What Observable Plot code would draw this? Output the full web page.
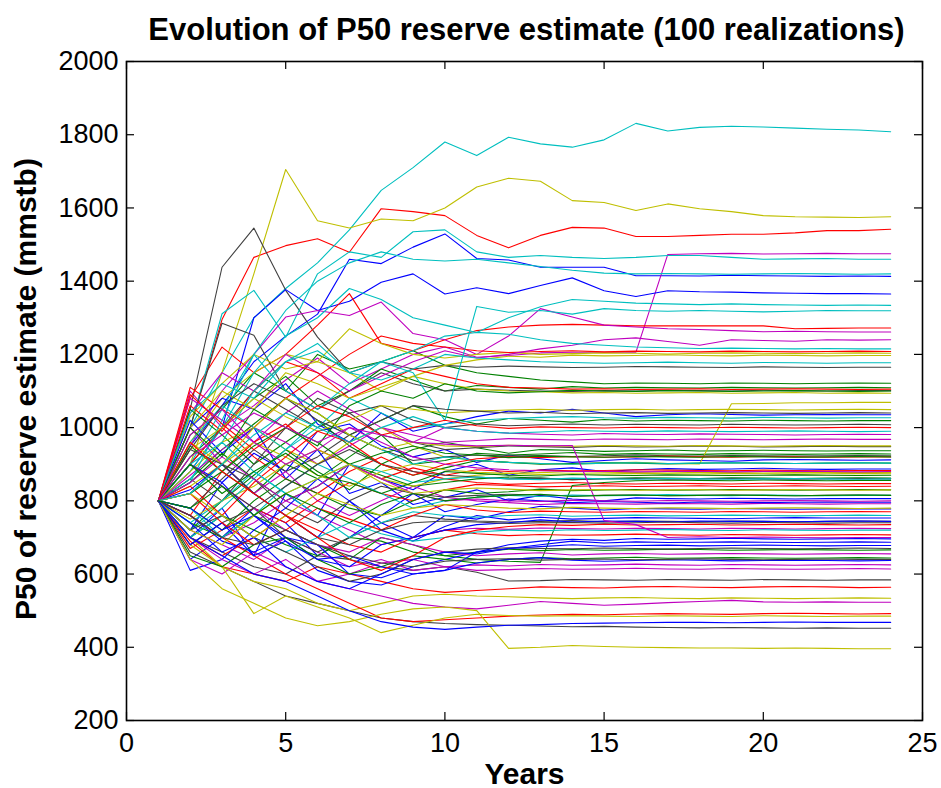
<!DOCTYPE html>
<html><head><meta charset="utf-8">
<script src="https://cdn.jsdelivr.net/npm/d3@7"></script>
<script src="https://cdn.jsdelivr.net/npm/@observablehq/plot@0.6"></script>
<style>body{margin:0;background:#fff}</style>
</head><body><div id="chart"></div>
<script>
const title = "Evolution of P50 reserve estimate (100 realizations)";
const xLabel = "Years";
const yLabel = "P50 of reserve estimate (mmstb)";
const xTicks = [0, 5, 10, 15, 20, 25];
const yTicks = [200, 400, 600, 800, 1000, 1200, 1400, 1600, 1800, 2000];
const years = [1,2,3,4,5,6,7,8,9,10,11,12,13,14,15,16,17,18,19,20,21,22,23,24];

const blueSeries = [
[800,950,1060,1180,1250,1310,1460,1448,1493,1529,1462,1458,1438,1438,1438,1415,1415,1414,1416,1415,1414,1413,1414,1413],
[800,880,1000,1300,1377,1320,1345,1397,1420,1365,1382,1366,1388,1409,1374,1358,1374,1371,1370,1368,1367,1366,1366,1365],
[800,1000,1080,1050,1120,1010,960,1040,990,1010,1030,1045,1040,1050,1040,1030,1035,1038,1036,1034,1035,1036,1035,1035],
[800,720,850,930,880,990,1010,950,920,940,905,925,915,905,910,915,912,910,908,912,913,912,911,912],
[800,700,780,650,820,760,900,860,830,880,900,870,885,890,880,885,888,886,887,889,887,886,887,887],
[800,1020,930,1000,860,940,820,850,790,810,830,800,815,805,800,808,806,805,807,806,805,806,806,806],
[800,640,700,780,740,650,700,760,820,770,790,805,800,795,798,796,794,797,796,795,796,797,796,796],
[800,830,900,820,760,700,800,740,700,760,750,770,785,780,775,779,778,777,779,778,777,778,778,778],
[800,610,640,720,780,860,800,720,690,730,760,748,755,750,752,754,753,752,751,753,754,753,753,753],
[800,760,690,660,700,640,620,680,700,720,735,740,748,742,745,744,743,745,744,744,743,744,745,744],
[800,900,850,760,700,680,600,590,620,640,660,680,690,695,692,697,695,696,698,696,695,696,697,696],
[800,680,740,650,690,610,580,570,600,610,660,670,680,690,685,688,686,687,688,687,686,687,688,687],
[800,740,660,700,620,580,560,600,640,660,655,670,675,680,676,678,679,677,678,679,678,677,678,678],
[800,780,720,760,690,640,650,620,600,610,630,640,645,638,635,637,639,638,636,637,638,637,636,637],
[800,700,650,600,580,540,500,470,455,449,455,460,462,465,466,467,468,468,467,468,469,468,468,468]
];
const greenSeries = [
[800,980,1050,1150,1100,1200,1160,1180,1210,1170,1150,1140,1130,1125,1120,1122,1121,1120,1122,1121,1120,1121,1122,1121],
[800,920,1000,1080,1140,1060,1100,1160,1130,1100,1115,1110,1105,1112,1108,1110,1109,1108,1110,1109,1108,1109,1110,1109],
[800,860,940,1010,1080,1040,980,1020,1060,1030,1010,1025,1020,1015,1022,1018,1020,1019,1018,1020,1019,1018,1019,1019],
[800,1050,980,900,960,1020,950,900,940,960,945,930,940,938,935,937,939,936,937,938,937,936,937,937],
[800,950,880,820,900,860,920,980,900,910,930,925,928,932,927,929,928,927,929,928,927,928,929,928],
[800,720,800,870,940,880,830,900,870,890,910,905,900,902,904,903,901,903,904,903,902,903,904,903],
[800,850,930,860,800,840,900,870,840,850,860,865,862,858,861,863,862,861,863,862,861,862,863,862],
[800,700,760,720,680,650,700,690,660,650,640,635,632,842,850,855,857,856,855,857,856,855,856,856],
[800,780,720,800,860,820,780,760,800,830,820,825,832,828,830,831,829,830,831,830,829,830,831,830],
[800,740,700,760,720,680,640,700,680,650,660,668,664,667,665,666,668,667,665,666,667,666,665,666],
[800,650,620,680,700,640,600,620,650,640,630,640,645,642,644,646,643,644,645,644,643,644,645,644],
[800,1000,920,1050,1000,950,1060,1100,1080,1120,1100,1095,1098,1102,1100,1099,1101,1100,1099,1100,1101,1100,1099,1100],
[800,820,880,950,1000,960,900,930,950,930,925,918,922,920,919,921,920,919,921,920,919,920,921,920],
[800,900,820,880,930,870,850,820,850,880,875,870,868,872,870,869,871,870,869,870,871,870,869,870],
[800,780,840,760,820,780,740,790,820,800,810,815,818,812,815,816,814,815,816,815,814,815,816,815]
];
const redSeries = [
[800,1000,1295,1465,1497,1516,1479,1598,1590,1579,1525,1491,1525,1547,1545,1522,1522,1525,1528,1528,1532,1538,1538,1542],
[800,1080,1220,1150,1200,1280,1366,1230,1210,1240,1265,1275,1280,1282,1280,1278,1278,1278,1278,1278,1270,1271,1272,1272],
[800,1110,1050,1000,1080,1140,1200,1250,1230,1220,1210,1205,1208,1210,1207,1209,1208,1207,1209,1208,1207,1208,1209,1208],
[800,1060,990,1100,1180,1150,1080,1120,1160,1140,1120,1110,1108,1105,1106,1104,1105,1106,1104,1105,1106,1105,1104,1105],
[800,760,880,960,1010,940,900,860,890,870,885,880,884,882,883,885,884,883,882,884,883,882,883,883],
[800,900,1000,920,860,820,880,920,880,860,850,845,848,850,847,846,848,847,846,848,847,846,847,847],
[800,670,720,780,740,800,850,820,800,830,845,842,838,840,841,839,840,841,839,840,841,840,839,840],
[800,700,650,700,760,720,680,660,700,720,710,705,708,706,707,709,707,706,708,707,706,707,708,707],
[800,690,620,600,580,620,600,580,560,550,555,560,565,563,562,565,566,564,563,565,566,565,563,564],
[800,760,700,650,600,560,520,480,470,475,480,485,488,490,489,491,492,491,490,492,493,492,491,492],
[800,1090,1010,940,1000,1060,1030,980,1000,1020,1005,998,1002,1000,999,1001,1000,999,1001,1000,999,1000,1001,1000],
[800,840,760,850,920,990,960,900,870,900,915,920,918,921,919,920,922,920,919,921,920,919,920,920],
[800,820,740,680,720,780,750,720,760,790,775,768,772,770,769,771,770,769,771,770,769,770,771,770],
[800,960,880,820,760,700,640,610,650,700,720,730,735,733,736,734,735,736,734,735,736,735,734,735]
];
const cyanSeries = [
[800,1000,1150,1300,1380,1450,1540,1648,1710,1780,1743,1793,1775,1766,1786,1831,1810,1820,1823,1821,1818,1815,1813,1808],
[800,1000,1311,1375,1247,1420,1480,1465,1535,1540,1480,1465,1470,1465,1462,1465,1470,1470,1465,1460,1461,1462,1460,1460],
[800,900,1050,1200,1320,1400,1450,1480,1460,1455,1460,1450,1440,1430,1422,1420,1421,1420,1419,1420,1421,1420,1419,1420],
[800,880,1000,1150,1250,1300,1380,1350,1300,1280,1260,1300,1330,1350,1345,1340,1338,1336,1338,1336,1335,1334,1335,1334],
[800,860,960,1100,1180,1230,1150,1180,1150,1019,1331,1315,1320,1310,1325,1320,1318,1320,1318,1316,1318,1320,1319,1319],
[800,850,1020,1200,1100,1050,1120,1180,1210,1250,1260,1255,1240,1230,1225,1220,1218,1216,1217,1216,1215,1216,1215,1215],
[800,1040,1120,1080,1180,1210,1150,1130,1160,1200,1190,1185,1180,1178,1176,1177,1179,1177,1176,1178,1177,1176,1177,1177],
[800,960,1060,1000,940,1000,1080,1040,1000,1010,1020,1025,1028,1030,1027,1026,1028,1027,1026,1028,1027,1026,1027,1027],
[800,720,780,860,940,1020,980,940,900,920,910,905,902,900,903,904,902,903,904,903,902,903,904,903],
[800,780,700,760,840,900,860,820,780,800,810,815,812,816,814,815,817,815,814,816,815,814,815,815],
[800,740,800,880,820,760,700,740,770,760,755,760,762,758,760,761,759,760,761,760,759,760,761,760],
[800,700,760,700,660,700,740,710,690,700,715,720,718,721,719,720,722,720,719,721,720,719,720,720],
[800,900,960,880,820,860,900,880,850,860,865,860,858,862,860,859,861,860,859,860,861,860,859,860],
[800,820,900,980,1040,1000,960,1000,1030,1000,990,985,988,992,990,989,991,990,989,990,991,990,989,990]
];
const magentaSeries = [
[800,1100,1000,1060,1130,1190,1120,1160,1200,1220,1192,1197,1204,1206,1206,1206,1473,1475,1476,1474,1475,1476,1475,1475],
[800,950,1100,1200,1302,1320,1306,1343,1257,1240,1200,1250,1325,1302,1280,1275,1270,1268,1265,1262,1263,1262,1261,1261],
[800,1040,1150,1100,1200,1150,1100,1140,1180,1210,1190,1200,1215,1225,1240,1245,1235,1225,1240,1238,1236,1240,1239,1240],
[800,1080,1020,960,1040,1100,1050,1000,960,1000,990,985,982,980,984,982,981,983,982,981,980,981,982,981],
[800,870,940,1000,960,900,950,1000,980,960,965,970,968,966,969,968,967,969,968,967,968,969,968,968],
[800,1000,900,820,880,800,760,800,840,810,800,795,790,793,792,791,793,792,791,793,792,791,792,792],
[800,760,700,740,800,760,720,680,700,720,725,722,726,724,723,725,724,723,725,724,723,724,725,724],
[800,720,680,640,700,660,620,640,610,620,625,622,626,624,625,627,625,624,626,625,624,625,626,625],
[800,640,600,660,620,580,600,630,640,620,610,612,615,613,614,616,614,613,615,614,613,614,615,614],
[800,700,640,600,640,580,560,540,520,510,505,515,525,520,515,518,522,525,528,524,523,524,523,523],
[800,900,840,780,720,680,660,700,680,660,650,655,658,652,655,656,654,655,656,655,654,655,656,655],
[800,850,920,860,800,840,900,860,820,800,805,800,798,802,800,799,801,800,799,800,801,800,799,800],
[800,980,1050,960,900,940,1000,960,920,900,890,885,882,880,881,879,880,881,879,880,881,880,879,880],
[800,920,980,1040,1000,960,1000,980,960,955,950,952,950,951,746,735,700,702,700,701,700,699,700,700]
];
const yellowSeries = [
[800,900,1150,1420,1705,1565,1545,1570,1565,1600,1657,1681,1673,1620,1615,1593,1611,1598,1590,1579,1576,1575,1574,1576],
[800,960,1080,1150,1200,1180,1270,1230,1200,1190,1200,1205,1200,1202,1204,1203,1201,1203,1204,1203,1202,1203,1204,1203],
[800,1030,1120,1200,1160,1180,1150,1100,1140,1170,1185,1195,1192,1198,1196,1197,1199,1197,1196,1198,1197,1196,1197,1197],
[800,1000,1100,1050,1150,1120,1080,1110,1140,1120,1105,1100,1098,1095,1096,1094,1095,1096,1094,1095,1096,1094,1095,1094],
[800,880,960,1000,940,900,960,1000,950,920,910,905,902,900,903,905,902,901,1065,1066,1068,1068,1069,1069],
[800,940,1000,1080,1030,990,1020,1060,1050,1040,1045,1048,1050,1047,1049,1050,1048,1049,1050,1049,1048,1049,1050,1049],
[800,840,900,960,920,870,840,880,900,885,878,875,877,880,878,877,876,878,877,876,877,878,877,877],
[800,750,800,840,900,940,900,860,840,860,870,875,872,874,873,875,874,873,875,874,873,874,875,874],
[800,680,620,580,560,520,500,520,540,545,540,538,535,533,535,536,534,533,535,534,533,534,535,534],
[800,700,620,492,540,510,480,440,460,480,490,487,485,486,485,484,486,485,484,486,485,484,485,485],
[800,640,560,520,480,459,470,490,505,510,500,397,400,405,402,400,399,398,398,397,398,397,396,396],
[800,960,900,1000,1080,1040,980,940,960,950,948,952,950,949,951,950,949,951,950,949,950,951,950,950],
[800,820,760,700,760,820,790,760,780,790,785,780,778,782,780,779,781,780,779,780,781,780,779,780],
[800,720,680,760,820,860,900,850,820,830,835,832,828,830,831,829,830,831,829,830,831,830,829,830]
];
const blackSeries = [
[800,1050,1438,1545,1375,1247,1150,1180,1160,1170,1165,1168,1166,1164,1165,1167,1166,1165,1164,1166,1165,1164,1165,1165],
[800,1000,1285,1252,1100,1050,1100,1150,1120,1100,1105,1102,1100,1099,1101,1100,1102,1101,1100,1102,1101,1100,1101,1101],
[800,900,1000,1100,1050,1000,1040,1060,1020,1000,1010,1005,1008,1010,1007,1009,1008,1007,1009,1008,1007,1008,1009,1008],
[800,860,800,900,1000,1080,1040,980,960,940,945,950,948,946,949,947,948,950,949,947,948,949,948,948],
[800,780,860,940,880,920,980,940,910,920,925,922,924,921,923,925,923,922,924,923,922,923,924,923],
[800,700,660,620,600,650,640,620,610,620,605,581,582,585,584,583,585,584,583,585,584,583,584,584],
[800,660,620,580,540,520,500,480,470,465,462,460,458,456,457,455,454,453,454,453,452,453,452,452],
[800,820,900,860,780,740,800,840,820,810,815,818,816,814,815,816,814,815,816,815,814,815,816,815],
[800,680,740,780,700,660,700,740,760,750,745,742,744,746,743,745,744,743,745,744,743,744,745,744],
[800,940,1060,1120,1080,1020,980,1020,1060,1050,1045,1040,1042,1038,1040,1041,1039,1040,1041,1040,1039,1040,1041,1040],
[800,900,840,780,840,900,940,900,880,870,865,860,862,858,860,861,859,860,861,860,859,860,861,860],
[800,720,760,700,660,620,580,600,640,660,668,672,670,669,671,670,668,670,671,670,669,670,671,670],
[800,940,900,820,760,700,680,720,740,745,742,738,740,741,739,740,742,740,739,741,740,739,740,740],
[800,760,700,680,720,680,650,630,620,635,640,642,638,640,641,639,640,642,640,639,640,641,640,640]
];

// MATLAB colour-cycle groups (short names, so Plot maps them through the colour scale)
const groups = [
  ["b", blueSeries], ["g", greenSeries], ["r", redSeries], ["c", cyanSeries],
  ["m", magentaSeries], ["y", yellowSeries], ["k", blackSeries]
];
const groupColors = ["#0000ff", "#008000", "#ff0000", "#00bfbf", "#bf00bf", "#bfbf00", "#404040"];

// interleave in MATLAB color-cycle order
const rows = [];
const maxLen = Math.max(...groups.map(g => g[1].length));
for (let k = 0; k < maxLen; k++) {
  for (const [name, list] of groups) {
    const s = list[k];
    if (!s) continue;
    if (s.length !== years.length) throw new Error(`bad length ${name} ${k}: ${s.length}`);
    s.forEach((v, j) => rows.push({series: `${name}-${k}`, group: name, year: years[j], value: v}));
  }
}

const W = 941, H = 788, mL = 126, mR = 19, mT = 61, mB = 68;
const fw = W - mL - mR, fh = H - mT - mB;
const tick = 8;
const font = "'Liberation Sans', Arial, Helvetica, sans-serif";

const chart = Plot.plot({
  width: W, height: H,
  marginLeft: mL, marginRight: mR, marginTop: mT, marginBottom: mB,
  style: {fontFamily: font, background: "#fff", color: "#000"},
  x: {domain: [0, 25]},
  y: {domain: [200, 2000]},
  color: {type: "categorical", domain: groups.map(g => g[0]), range: groupColors},
  marks: [
    Plot.line(rows, {x: "year", y: "value", z: "series", stroke: "group", strokeWidth: 1.1}),
    Plot.ruleX(xTicks, {x: d => d, insetTop: fh - tick, stroke: "#000", strokeWidth: 1.2}),
    Plot.ruleX(xTicks, {x: d => d, insetBottom: fh - tick, stroke: "#000", strokeWidth: 1.2}),
    Plot.ruleY(yTicks, {y: d => d, insetRight: fw - tick, stroke: "#000", strokeWidth: 1.2}),
    Plot.ruleY(yTicks, {y: d => d, insetLeft: fw - tick, stroke: "#000", strokeWidth: 1.2}),
    Plot.frame({stroke: "#000", strokeWidth: 1.6}),
    Plot.axisX({ticks: xTicks, tickSize: 0, tickPadding: 12, fontSize: 27, label: null, tickFormat: d => String(d)}),
    Plot.axisY({ticks: yTicks, tickSize: 0, tickPadding: 8, fontSize: 27, label: null, tickFormat: d => String(d)}),
    Plot.text([title], {frameAnchor: "top", textAnchor: "middle", lineAnchor: "bottom", dy: -22, dx: 2, fontSize: 31, fontWeight: "bold"}),
    Plot.text([xLabel], {frameAnchor: "bottom", textAnchor: "middle", lineAnchor: "bottom", dy: 63, fontSize: 30, fontWeight: "bold"}),
    Plot.text([yLabel], {frameAnchor: "left", textAnchor: "middle", lineAnchor: "bottom", rotate: -90, dx: -91, dy: -2, fontSize: 30, fontWeight: "bold"})
  ]
});
document.getElementById("chart").appendChild(chart);
</script>
</body></html>
